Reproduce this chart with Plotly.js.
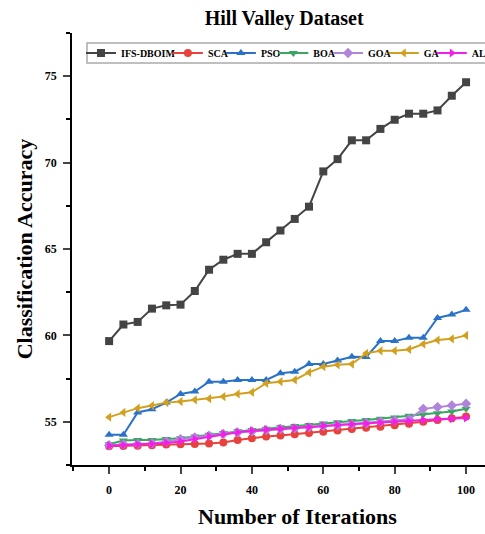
<!DOCTYPE html>
<html>
<head>
<meta charset="utf-8">
<script src="https://cdn.plot.ly/plotly-3.0.1.min.js"></script>
<style>html,body{margin:0;padding:0;background:#fff;}#chart{width:485px;height:534px;}</style>
</head>
<body>
<div id="chart"></div>
<script>
const iterations = [0,4,8,12,16,20,24,28,32,36,40,44,48,52,56,60,64,68,72,76,80,84,88,92,96,100];
const ifsDboim = [59.67,60.63,60.78,61.55,61.74,61.78,62.57,63.80,64.38,64.72,64.72,65.39,66.07,66.74,67.45,69.49,70.20,71.29,71.29,71.95,72.48,72.83,72.83,73.02,73.87,74.65];
const sca = [53.58,53.6,53.62,53.65,53.68,53.7,53.72,53.75,53.8,53.95,54.05,54.15,54.2,54.28,54.35,54.42,54.5,54.58,54.65,54.72,54.8,54.88,55.0,55.1,55.2,55.3];
const pso = [54.25,54.25,55.54,55.73,56.11,56.61,56.75,57.32,57.32,57.42,57.42,57.42,57.81,57.90,58.34,58.34,58.55,58.76,58.75,59.67,59.67,59.86,59.86,61.01,61.21,61.48];
const boa = [53.7,53.92,53.95,53.95,54.0,54.05,54.15,54.25,54.35,54.45,54.52,54.6,54.68,54.75,54.82,54.9,54.98,55.05,55.1,55.18,55.25,55.35,55.42,55.5,55.6,55.75];
const goa = [53.65,53.7,53.72,53.75,53.85,54.0,54.1,54.2,54.3,54.38,54.45,54.52,54.58,54.62,54.68,54.75,54.8,54.85,54.92,55.0,55.08,55.15,55.75,55.85,55.95,56.05];
const ga = [55.27,55.54,55.79,55.94,56.11,56.17,56.27,56.34,56.46,56.61,56.71,57.23,57.32,57.42,57.86,58.19,58.30,58.34,58.96,59.11,59.11,59.19,59.50,59.73,59.80,60.0];
const alo = [53.62,53.65,53.68,53.72,53.78,53.86,54.0,54.15,54.3,54.4,54.48,54.55,54.6,54.65,54.7,54.78,54.82,54.86,54.9,54.95,55.0,55.02,55.1,55.15,55.18,55.22];

const seriesNames = ['IFS-DBOIM','SCA','PSO','BOA','GOA','GA','ALO'];
const seriesData = [ifsDboim, sca, pso, boa, goa, ga, alo];
const colors = ['#444444','#e8423c','#2a72c8','#3aa661','#b184dc','#d2a020','#f21fe6'];
const symbols = ['square','circle','triangle-up','triangle-down','diamond','triangle-left','triangle-right'];

const font = 'Liberation Serif';
const legendFontSize = 10;
const legendIds = ['legend','legend2','legend3','legend4','legend5','legend6','legend7'];

// pack legend entries in one row (measure text widths)
const ctx = document.createElement('canvas').getContext('2d');
ctx.font = 'bold ' + legendFontSize + 'px "Liberation Serif"';
const legendX = [];
let pos = 81;
seriesNames.forEach(n => { legendX.push(pos); pos += 33 + ctx.measureText(n).width; });

const traces = seriesNames.map((n,i)=>({
  x: iterations, y: seriesData[i], name: n, type:'scatter', mode:'lines+markers',
  legend: legendIds[i],
  line:{color:colors[i], width:2},
  marker:{symbol:symbols[i], size:8, color:colors[i]}
}));

const W = 485, H = 534;
const layout = {
  width:W, height:H,
  margin:{l:72, r:0, t:33, b:69, autoexpand:false},
  paper_bgcolor:'#fff', plot_bgcolor:'#fff',
  font:{family:font, color:'#000'},
  title:{text:'<b>Hill Valley Dataset</b>', font:{family:font, size:20, color:'#000'}, x:0.586, xref:'container', y:0.967, yref:'container', yanchor:'middle'},
  showlegend:true,
  xaxis:{range:[-10.4,105.3], tickvals:[0,20,40,60,80,100], ticks:'outside', ticklen:7, tickwidth:1.5,
    minor:{dtick:10, tick0:0, ticks:'outside', ticklen:4, tickwidth:1.5, tickcolor:'#000'},
    showline:true, linecolor:'#000', linewidth:1.5, showgrid:false, zeroline:false, ticklabelstandoff:6,
    tickfont:{family:font, size:12, weight:'bold'}},
  yaxis:{range:[52.5,77.5], tickvals:[55,60,65,70,75], ticks:'outside', ticklen:7, tickwidth:1.5,
    minor:{dtick:2.5, tick0:52.5, ticks:'outside', ticklen:4, tickwidth:1.5, tickcolor:'#000'},
    showline:true, linecolor:'#000', linewidth:1.5, showgrid:false, zeroline:false, ticklabelstandoff:4,
    tickfont:{family:font, size:12, weight:'bold'},
    title:{text:'<b>Classification Accuracy</b>', font:{family:font, size:22}, standoff:6}},
  shapes:[{type:'rect', xref:'paper', yref:'paper', x0:(87-72)/413, x1:1.05, y0:(465-63)/432, y1:(465-43)/432,
    line:{color:'#aaa', width:1.5}, fillcolor:'rgba(255,255,255,0)', layer:'above'}],
  annotations:[{text:'<b>Number of Iterations</b>', xref:'paper', yref:'paper', x:0.547, y:-0.12, yanchor:'middle', showarrow:false, font:{family:font, size:22, color:'#000'}}]
};
legendIds.forEach((id,i)=>{
  layout[id] = {x:legendX[i]/W, xref:'container', xanchor:'left', y:1-53/H, yref:'container', yanchor:'middle',
    orientation:'h', bgcolor:'rgba(0,0,0,0)', borderwidth:0, itemwidth:30,
    font:{family:font, size:legendFontSize, color:'#000', weight:'bold'}};
});
Plotly.newPlot('chart', traces, layout, {displayModeBar:false});
</script>
</body>
</html>
